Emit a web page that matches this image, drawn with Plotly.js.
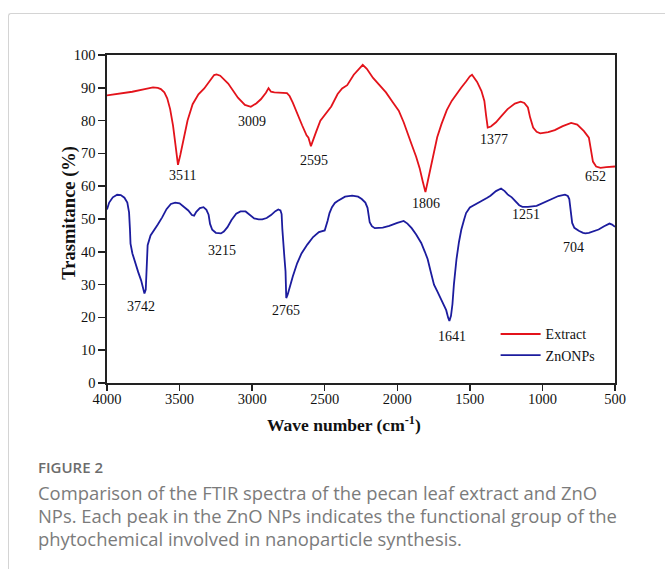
<!DOCTYPE html>
<html>
<head>
<meta charset="utf-8">
<script src="https://cdn.plot.ly/plotly-3.0.1.min.js"></script>
<style>
  html, body { margin: 0; padding: 0; background: #fff; }
  #wrap { position: relative; width: 665px; height: 569px; overflow: hidden; background: #fff; }
  #card { position: absolute; left: 8px; top: 13px; width: 720px; height: 620px;
          border-top: 1px solid #d4d4d4; border-left: 1px solid #d4d4d4; border-top-left-radius: 3px; }
  #chart { position: absolute; left: 0; top: 0; width: 665px; height: 569px; }
  .figno { position: absolute; left: 38px; top: 459px; height: 16px; font-family: "Open Sans", sans-serif;
           font-size: 15px; line-height: 16px; font-weight: 600; color: #6c6c6c; white-space: nowrap; }
  .capline { position: absolute; left: 38px; height: 23px; font-family: "Open Sans", sans-serif;
             font-size: 18.4px; line-height: 23px; color: #7b7b7b; white-space: nowrap; }
</style>
</head>
<body>
<div id="wrap">
  <div id="card"></div>
  <div id="chart"></div>
  <div class="figno">FIGURE 2</div>
  <div class="capline" style="top:481px">Comparison of the FTIR spectra of the pecan leaf extract and ZnO</div>
  <div class="capline" style="top:504px">NPs. Each peak in the ZnO NPs indicates the functional group of the</div>
  <div class="capline" style="top:527px">phytochemical involved in nanoparticle synthesis.</div>
</div>
<script>
// FTIR spectrum of the pecan leaf extract (wavenumber in cm-1, transmittance in %)
const extractWave = [4000, 3900, 3826, 3740, 3683, 3650, 3629, 3605, 3585, 3565, 3545, 3528, 3511, 3495, 3475, 3445, 3410, 3370, 3330, 3290,
  3262, 3245, 3220, 3165, 3098, 3050, 3009, 2970, 2940, 2905, 2887, 2870, 2847, 2760, 2742, 2720, 2690, 2655, 2625, 2612,
  2595, 2578, 2560, 2530, 2500, 2455, 2411, 2380, 2345, 2300, 2238, 2210, 2167, 2120, 2078, 2030, 1990, 1956, 1930, 1901,
  1870, 1846, 1825, 1806, 1790, 1769, 1750, 1725, 1695, 1659, 1625, 1592, 1560, 1526, 1500, 1485, 1465, 1450, 1420, 1400,
  1388, 1377, 1355, 1320, 1280, 1240, 1190, 1150, 1125, 1100, 1085, 1064, 1040, 1015, 960, 915, 860, 802, 760, 714,
  680, 665, 652, 630, 600, 560, 520, 500];
const extractT = [87.7, 88.3, 88.8, 89.6, 90.1, 90.0, 89.6, 88.6, 86.8, 83.5, 78.5, 72.5, 66.5, 69.5, 73.5, 80.0, 85.0, 88.0, 89.8, 92.2,
  93.9, 94.1, 93.7, 91.3, 87.0, 84.8, 84.2, 85.3, 86.5, 88.5, 89.9, 88.8, 88.6, 88.4, 87.5, 85.5, 82.0, 78.5, 75.5, 74.8,
  72.2, 74.0, 76.5, 80.0, 81.8, 84.3, 88.1, 89.8, 90.8, 94.0, 97.0, 95.8, 93.0, 90.8, 88.6, 85.5, 83.0, 79.5, 76.0, 72.7,
  69.0, 65.5, 61.5, 58.2, 61.5, 65.5, 70.0, 74.9, 79.0, 83.2, 86.0, 88.1, 90.0, 91.9, 93.5, 94.0, 92.8, 91.8, 89.0, 86.0,
  81.5, 77.9, 78.2, 79.5, 81.5, 83.5, 85.2, 85.8, 85.4, 84.0, 81.0, 77.9, 76.6, 76.1, 76.5, 77.1, 78.3, 79.3, 78.8, 76.8,
  74.8, 71.0, 67.5, 66.0, 65.6, 65.8, 66.0, 66.0];

// FTIR spectrum of the ZnO nanoparticles
const znoWave = [4000, 3985, 3960, 3930, 3905, 3880, 3860, 3848, 3842, 3838, 3825, 3805, 3785, 3765, 3752, 3742, 3733, 3727, 3720, 3700,
  3680, 3650, 3620, 3590, 3560, 3530, 3500, 3470, 3440, 3415, 3400, 3385, 3360, 3335, 3315, 3300, 3290, 3275, 3250, 3215,
  3195, 3170, 3142, 3110, 3080, 3045, 3015, 2986, 2955, 2930, 2900, 2870, 2840, 2820, 2805, 2797, 2792, 2787, 2778, 2770,
  2765, 2755, 2740, 2720, 2690, 2660, 2620, 2580, 2540, 2500, 2480, 2467, 2450, 2430, 2411, 2360, 2311, 2270, 2245, 2220,
  2205, 2198, 2190, 2175, 2155, 2100, 2055, 2000, 1956, 1930, 1901, 1870, 1835, 1810, 1791, 1770, 1747, 1725, 1703, 1680,
  1663, 1650, 1641, 1630, 1620, 1610, 1600, 1592, 1575, 1559, 1540, 1526, 1500, 1456, 1420, 1380, 1358, 1320, 1285, 1260,
  1240, 1211, 1180, 1160, 1138, 1100, 1040, 990, 940, 890, 845, 825, 815, 805, 795, 780, 750, 720, 704, 680,
  650, 613, 575, 538, 520, 500];
const znoT = [52.9, 55.0, 56.6, 57.4, 57.3, 56.5, 55.0, 52.0, 47.0, 42.5, 39.5, 36.5, 33.8, 31.3, 29.0, 27.3, 28.5, 35.0, 42.0, 45.0,
  46.5, 48.3, 50.5, 53.0, 54.6, 55.0, 54.8, 53.8, 52.6, 51.2, 51.0, 52.2, 53.3, 53.6, 52.8, 51.3, 48.5, 46.7, 45.8, 45.6,
  46.2, 47.5, 49.7, 51.6, 52.3, 52.3, 51.2, 50.2, 49.9, 49.9, 50.3, 51.2, 52.4, 52.9, 52.6, 51.5, 47.0, 42.5, 38.5, 34.0,
  25.9, 27.0, 29.5, 32.5, 36.5, 39.5, 42.2, 44.5, 46.0, 46.5, 49.5, 51.8, 53.6, 54.9, 55.5, 56.8, 57.1, 56.8, 56.1, 55.0,
  53.4, 51.0, 49.0, 47.8, 47.2, 47.4, 47.9, 48.8, 49.4, 48.6, 47.2, 45.3, 42.7, 40.0, 37.8, 34.0, 30.0, 28.0, 26.1, 24.0,
  22.2, 20.0, 18.9, 20.5, 24.0, 30.0, 35.5, 37.8, 43.0, 46.7, 49.8, 51.8, 53.5, 54.5, 55.5, 56.5, 57.1, 58.5, 59.3, 58.5,
  57.5, 56.6, 55.0, 54.2, 53.7, 53.7, 54.0, 55.0, 56.1, 57.0, 57.4, 57.0, 56.1, 52.5, 48.8, 47.3, 46.4, 45.8, 45.6, 45.8,
  46.3, 46.8, 47.8, 48.6, 48.3, 47.6];

const seriesNames = ['Extract', 'ZnONPs'];

// Labelled absorption bands and the spectrum each belongs to
const peakWaves  = [3511, 3009, 2595, 1806, 1377, 652, 3742, 3215, 2765, 1641, 1251, 704];
const peakSeries = [0, 0, 0, 0, 0, 0, 1, 1, 1, 1, 1, 1];

const xTicks = [4000, 3500, 3000, 2500, 2000, 1500, 1000, 500];

// label placement (pixel offsets from the curve point)
const labelShiftX = [5, 1.5, 3.5, 1, 6, 3, -3, 1, 0, 3, 20, -12];
const labelDrop   = [11, 14.4, 14.3, 11.6, 11.7, 15, 13.4, 16.6, 12.3, 15, 22, 14];

const colors = ['#e3131b', '#1c1c9e'];
const serif = '"Liberation Serif", "Times New Roman", serif';

const spectra = [[extractWave, extractT], [znoWave, znoT]];

function valueAt(wave, t, x) {
  for (let i = 0; i < wave.length - 1; i++) {
    const a = wave[i], b = wave[i + 1];
    if ((x <= a && x >= b) || (x >= a && x <= b)) {
      const f = (x - a) / (b - a);
      return t[i] + f * (t[i + 1] - t[i]);
    }
  }
  return t[t.length - 1];
}

const traces = spectra.map((s, i) => ({
  type: 'scatter', mode: 'lines', name: seriesNames[i],
  x: s[0], y: s[1],
  line: { color: colors[i], width: 1.8 },
  hoverinfo: 'x+y'
}));

const annotations = peakWaves.map((w, i) => {
  const s = spectra[peakSeries[i]];
  return {
    x: w, y: valueAt(s[0], s[1], w), xref: 'x', yref: 'y',
    text: String(w), showarrow: false,
    xshift: labelShiftX[i], yshift: -labelDrop[i],
    font: { family: serif, size: 14, color: '#111' }
  };
});

// axis titles
annotations.push({
  xref: 'paper', yref: 'paper', x: 0.4665, y: -0.125, xanchor: 'center', yanchor: 'middle',
  text: '<b>Wave number (cm<sup>-1</sup>)</b>', showarrow: false,
  font: { family: serif, size: 17.5, color: '#111' }
});
annotations.push({
  xref: 'paper', yref: 'paper', x: -0.0755, y: 0.518, xanchor: 'center', yanchor: 'middle',
  text: '<b>Trasmitance (%)</b>', showarrow: false, textangle: -90,
  font: { family: serif, size: 18.5, color: '#111' }
});

const layout = {
  width: 665, height: 569,
  margin: { l: 107, r: 50, t: 55, b: 186, autoexpand: false },
  paper_bgcolor: 'rgba(0,0,0,0)', plot_bgcolor: 'rgba(0,0,0,0)',
  showlegend: true,
  legend: {
    x: 0.765, y: 0.197, xanchor: 'left', yanchor: 'top',
    bgcolor: 'rgba(0,0,0,0)', borderwidth: 0, itemwidth: 40,
    font: { family: serif, size: 14, color: '#111' }
  },
  xaxis: {
    range: [4000, 500], tickvals: xTicks, ticktext: xTicks.map(String),
    ticks: 'outside', ticklen: 6, tickwidth: 1.5, tickcolor: '#222',
    ticklabelstandoff: -4,
    showline: true, linecolor: '#222', linewidth: 1.6, mirror: true,
    showgrid: false, zeroline: false,
    tickfont: { family: serif, size: 14.5, color: '#111' }
  },
  yaxis: {
    range: [0, 100], dtick: 10,
    ticks: 'outside', ticklen: 7, tickwidth: 1.5, tickcolor: '#222',
    showline: true, linecolor: '#222', linewidth: 1.6, mirror: true,
    showgrid: false, zeroline: false,
    tickfont: { family: serif, size: 14.5, color: '#111' }
  },
  annotations: annotations
};

Plotly.newPlot('chart', traces, layout, { displayModeBar: false, staticPlot: true });
</script>
</body>
</html>
